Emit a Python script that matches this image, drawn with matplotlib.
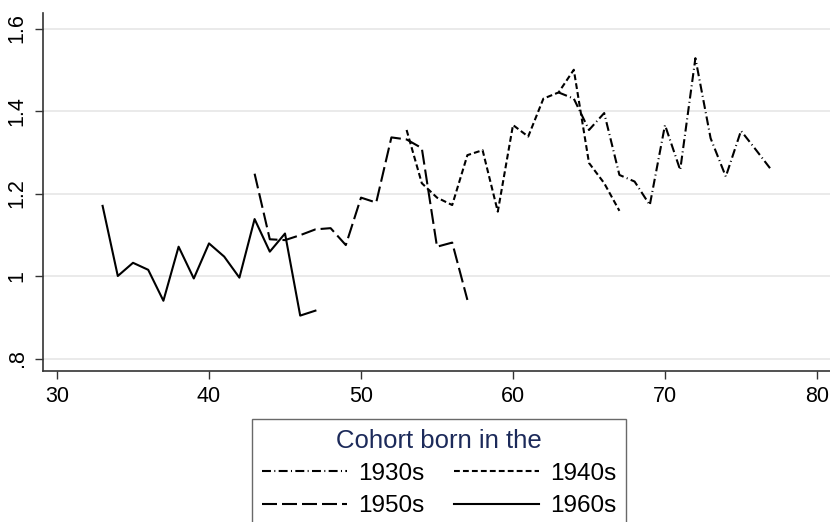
import matplotlib
matplotlib.use("Agg")
import matplotlib.pyplot as plt

plt.rcParams['font.family'] = ['Liberation Sans', 'DejaVu Sans']

ages_1930s = list(range(63, 78))
vals_1930s = [1.445, 1.43, 1.354, 1.395, 1.245, 1.229, 1.172, 1.366, 1.257, 1.528, 1.334, 1.241, 1.352, 1.305, 1.257]
ages_1940s = list(range(53, 68))
vals_1940s = [1.354, 1.225, 1.19, 1.172, 1.293, 1.305, 1.156, 1.366, 1.338, 1.43, 1.445, 1.50, 1.274, 1.225, 1.158]
ages_1950s = list(range(43, 58))
vals_1950s = [1.248, 1.089, 1.087, 1.099, 1.113, 1.116, 1.075, 1.19, 1.178, 1.336, 1.331, 1.31, 1.071, 1.081, 0.942]
ages_1960s = list(range(33, 48))
vals_1960s = [1.17, 1.00, 1.032, 1.015, 0.94, 1.071, 0.994, 1.079, 1.047, 0.996, 1.138, 1.059, 1.103, 0.904, 0.916]

xticks = [30, 40, 50, 60, 70, 80]
yticks = [0.8, 1.0, 1.2, 1.4, 1.6]
ytick_labels = ['.8', '1', '1.2', '1.4', '1.6']
legend_labels = ['1930s', '1940s', '1950s', '1960s']
legend_title = 'Cohort born in the'

W, H = 830, 522
fig = plt.figure(figsize=(W / 100, H / 100), dpi=100)
spine_bottom = 371
spine_left = 43
ax = fig.add_axes([spine_left / W, 1 - spine_bottom / H, 1 - spine_left / W, (spine_bottom - 13) / H])

lw = 1.5
styles = [
    (0, (4.3, 1.6, 0.5, 1.6)),
    (0, (2.8, 1.5)),
    (0, (7.2, 2.4)),
    '-',
]
series = [(ages_1930s, vals_1930s), (ages_1940s, vals_1940s),
          (ages_1950s, vals_1950s), (ages_1960s, vals_1960s)]
handles = []
for (x, y), ls, lab in zip(series, styles, legend_labels):
    ln, = ax.plot(x, y, color='black', lw=lw, linestyle=ls, label=lab, zorder=3)
    handles.append(ln)

# pixel mapping: x=30 at px 57, 15.2 px/unit; y=1 at px 276, 412.5 px/unit
ax.set_xlim(30 + (spine_left - 57) / 15.2, 30 + (W - 57) / 15.2)
ax.set_ylim(1 - (spine_bottom - 276) / 412.5, 1 + (276 - 13) / 412.5)
ax.set_xticks(xticks)
ax.set_xticklabels([str(t) for t in xticks])
ax.set_yticks(yticks)
ax.set_yticklabels(ytick_labels, rotation=90, va='center')
ax.tick_params(axis='both', labelsize=15.5, length=6, width=1, color='#333333', direction='out', pad=5)
ax.grid(axis='y', color='#e6e6e6', lw=1.2)
ax.set_axisbelow(True)
for s in ['top', 'right']:
    ax.spines[s].set_visible(False)
for s in ['left', 'bottom']:
    ax.spines[s].set_color('#333333')
    ax.spines[s].set_linewidth(1.2)

# row-wise legend order: 1930s 1940s / 1950s 1960s
order = [0, 2, 1, 3]
leg = fig.legend(handles=[handles[i] for i in order], labels=[legend_labels[i] for i in order],
                 ncol=2, loc='upper left',
                 bbox_to_anchor=(252 / W, 1 - 419 / H), fontsize=17.5, frameon=True,
                 fancybox=False, edgecolor='#444444', handlelength=3.5,
                 columnspacing=1.25, handletextpad=0.45, labelspacing=0.42,
                 borderpad=0.4, borderaxespad=0, title=legend_title, title_fontsize=18.5)
leg.get_title().set_color('#1c2a5a')
leg.get_frame().set_linewidth(1.0)

fig.savefig('out.png', dpi=100)
